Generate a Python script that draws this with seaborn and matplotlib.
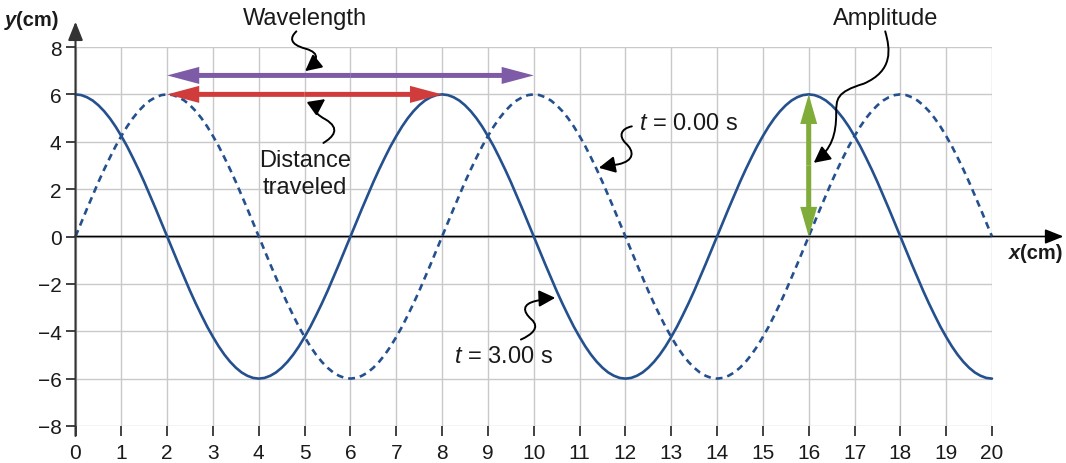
import numpy as np
import pandas as pd
import matplotlib
matplotlib.use("Agg")
import matplotlib.pyplot as plt
import seaborn as sns
from matplotlib.path import Path
from matplotlib.patches import FancyArrowPatch, FancyArrow

# ---------------- data ----------------
x_cm = np.linspace(0, 20, 161)          # sample positions, every 0.125 cm

# t = 3.00 s (solid)
y_t3 = [
    6.00, 5.97, 5.88, 5.74, 5.54, 5.29, 4.99, 4.64, 4.24, 3.81, 3.33, 2.83, 2.30, 1.74, 1.17, 0.59, 0.00,
    -0.59, -1.17, -1.74, -2.30, -2.83, -3.33, -3.81, -4.24, -4.64, -4.99, -5.29, -5.54, -5.74, -5.88, -5.97, -6.00,
    -5.97, -5.88, -5.74, -5.54, -5.29, -4.99, -4.64, -4.24, -3.81, -3.33, -2.83, -2.30, -1.74, -1.17, -0.59, 0.00,
    0.59, 1.17, 1.74, 2.30, 2.83, 3.33, 3.81, 4.24, 4.64, 4.99, 5.29, 5.54, 5.74, 5.88, 5.97, 6.00,
    5.97, 5.88, 5.74, 5.54, 5.29, 4.99, 4.64, 4.24, 3.81, 3.33, 2.83, 2.30, 1.74, 1.17, 0.59, 0.00,
    -0.59, -1.17, -1.74, -2.30, -2.83, -3.33, -3.81, -4.24, -4.64, -4.99, -5.29, -5.54, -5.74, -5.88, -5.97, -6.00,
    -5.97, -5.88, -5.74, -5.54, -5.29, -4.99, -4.64, -4.24, -3.81, -3.33, -2.83, -2.30, -1.74, -1.17, -0.59, 0.00,
    0.59, 1.17, 1.74, 2.30, 2.83, 3.33, 3.81, 4.24, 4.64, 4.99, 5.29, 5.54, 5.74, 5.88, 5.97, 6.00,
    5.97, 5.88, 5.74, 5.54, 5.29, 4.99, 4.64, 4.24, 3.81, 3.33, 2.83, 2.30, 1.74, 1.17, 0.59, 0.00,
    -0.59, -1.17, -1.74, -2.30, -2.83, -3.33, -3.81, -4.24, -4.64, -4.99, -5.29, -5.54, -5.74, -5.88, -5.97, -6.00,
]

# t = 0.00 s (dashed)
y_t0 = [
    0.00, 0.59, 1.17, 1.74, 2.30, 2.83, 3.33, 3.81, 4.24, 4.64, 4.99, 5.29, 5.54, 5.74, 5.88, 5.97, 6.00,
    5.97, 5.88, 5.74, 5.54, 5.29, 4.99, 4.64, 4.24, 3.81, 3.33, 2.83, 2.30, 1.74, 1.17, 0.59, 0.00,
    -0.59, -1.17, -1.74, -2.30, -2.83, -3.33, -3.81, -4.24, -4.64, -4.99, -5.29, -5.54, -5.74, -5.88, -5.97, -6.00,
    -5.97, -5.88, -5.74, -5.54, -5.29, -4.99, -4.64, -4.24, -3.81, -3.33, -2.83, -2.30, -1.74, -1.17, -0.59, 0.00,
    0.59, 1.17, 1.74, 2.30, 2.83, 3.33, 3.81, 4.24, 4.64, 4.99, 5.29, 5.54, 5.74, 5.88, 5.97, 6.00,
    5.97, 5.88, 5.74, 5.54, 5.29, 4.99, 4.64, 4.24, 3.81, 3.33, 2.83, 2.30, 1.74, 1.17, 0.59, 0.00,
    -0.59, -1.17, -1.74, -2.30, -2.83, -3.33, -3.81, -4.24, -4.64, -4.99, -5.29, -5.54, -5.74, -5.88, -5.97, -6.00,
    -5.97, -5.88, -5.74, -5.54, -5.29, -4.99, -4.64, -4.24, -3.81, -3.33, -2.83, -2.30, -1.74, -1.17, -0.59, 0.00,
    0.59, 1.17, 1.74, 2.30, 2.83, 3.33, 3.81, 4.24, 4.64, 4.99, 5.29, 5.54, 5.74, 5.88, 5.97, 6.00,
    5.97, 5.88, 5.74, 5.54, 5.29, 4.99, 4.64, 4.24, 3.81, 3.33, 2.83, 2.30, 1.74, 1.17, 0.59, 0.00,
]

x_ticks = list(range(0, 21))
y_ticks = list(range(-8, 9, 2))

# highlighted spans
wavelength_span = (2, 10)
wavelength_level = 6.8
distance_span = (2, 8)
distance_level = 6.0
amplitude_x = 16
amplitude_span = (0, 6)

# ---------------- style ----------------
sns.set_theme(style="white")
plt.rcParams["font.family"] = ["Liberation Sans", "DejaVu Sans"]
plt.rcParams["mathtext.fontset"] = "custom"
plt.rcParams["mathtext.it"] = "Liberation Sans:italic"
plt.rcParams["mathtext.rm"] = "Liberation Sans"
plt.rcParams["axes.unicode_minus"] = True

BLUE = "#24508e"
PURPLE = "#7d5ba6"
RED = "#d03c3c"
GREEN = "#80ac3a"
TXT = "#1a1a1a"

fig = plt.figure(figsize=(10.66, 4.64), dpi=100)
ax = fig.add_axes([75.5 / 1066, 37 / 464, (992 - 75.5) / 1066, (427 - 48) / 464])

df = pd.DataFrame({"x": x_cm, "t0": y_t0, "t3": y_t3})

sns.lineplot(data=df, x="x", y="t0", ax=ax, color=BLUE, lw=1.9,
             linestyle=(0, (2.6, 1.9)), clip_on=False, zorder=3)
sns.lineplot(data=df, x="x", y="t3", ax=ax, color=BLUE, lw=1.9,
             clip_on=False, zorder=3)

ax.set_xlim(0, 20)
ax.set_ylim(-8, 8)
ax.set_xticks(x_ticks)
ax.set_yticks(y_ticks)
ax.set_xlabel("")
ax.set_ylabel("")
ax.grid(True, color="#c9c9c9", lw=1.0)
ax.set_axisbelow(True)
for s in ax.spines.values():
    s.set_visible(False)
ax.tick_params(axis="x", bottom=True, length=7, width=1.3, color="#333333",
               pad=5, labelsize=15, labelcolor=TXT)
ax.tick_params(axis="y", left=True, length=7, width=1.3, color="#333333",
               pad=3, labelsize=15, labelcolor=TXT)

# axes lines with arrows
ax.annotate("", xy=(21.56, 0), xytext=(0, 0),
            arrowprops=dict(arrowstyle="-|>,head_length=0.7,head_width=0.28",
                            color="black", lw=1.2, mutation_scale=16,
                            shrinkA=0, shrinkB=0),
            annotation_clip=False, zorder=2)
ax.annotate("", xy=(0, 9.07), xytext=(0, -8.42),
            arrowprops=dict(arrowstyle="-|>,head_length=0.7,head_width=0.28",
                            color="#333333", lw=1.5, mutation_scale=16,
                            shrinkA=0, shrinkB=0),
            annotation_clip=False, zorder=4)

# axis labels
ax.text(-1.30, 9.14, "y", ha="right", va="center", fontsize=14.5,
        fontweight="bold", fontstyle="italic", color=TXT)
ax.text(-1.30, 9.14, "(cm)", ha="left", va="center", fontsize=14.5,
        fontweight="bold", color=TXT)
ax.text(20.62, -0.68, "x", ha="right", va="center", fontsize=14.5,
        fontweight="bold", fontstyle="italic", color=TXT)
ax.text(20.62, -0.68, "(cm)", ha="left", va="center", fontsize=14.5,
        fontweight="bold", color=TXT)


def double_arrow(p0, p1, width, hw, hl, color):
    mx, my = (p0[0] + p1[0]) / 2, (p0[1] + p1[1]) / 2
    for ex, ey in (p0, p1):
        ax.add_patch(FancyArrow(mx, my, ex - mx, ey - my, width=width,
                                head_width=hw, head_length=hl,
                                length_includes_head=True, color=color,
                                lw=0, clip_on=False, zorder=5))


double_arrow((wavelength_span[0], wavelength_level), (wavelength_span[1], wavelength_level),
             0.21, 0.72, 0.7, PURPLE)
double_arrow((distance_span[0], distance_level), (distance_span[1], distance_level),
             0.21, 0.72, 0.7, RED)
double_arrow((amplitude_x, amplitude_span[0]), (amplitude_x, amplitude_span[1]),
             0.11, 0.37, 1.25, GREEN)


def squiggle(verts):
    codes = [Path.MOVETO] + [Path.CURVE4] * (len(verts) - 1)
    p = FancyArrowPatch(path=Path(verts, codes),
                        arrowstyle="-|>,head_length=0.55,head_width=0.28",
                        mutation_scale=18, lw=1.4, color="black",
                        clip_on=False, zorder=6)
    ax.add_patch(p)


squiggle([(4.82, 8.66), (4.68, 8.40), (4.66, 8.12), (5.02, 7.93),
          (5.36, 7.74), (5.28, 7.40), (5.01, 6.98)])
squiggle([(5.41, 3.95), (5.62, 4.20), (5.80, 4.55), (5.45, 4.95),
          (5.12, 5.30), (5.22, 5.48), (5.45, 5.80)])
squiggle([(12.14, 4.65), (11.90, 4.55), (11.85, 4.25), (12.00, 3.95),
          (12.20, 3.60), (12.20, 3.20), (11.85, 3.05),
          (11.70, 3.00), (11.55, 2.95), (11.42, 2.90)])
squiggle([(17.67, 8.66), (17.78, 7.90), (17.85, 7.00), (17.20, 6.45),
          (16.60, 6.10), (16.60, 5.80), (16.60, 5.20),
          (16.60, 4.30), (16.50, 3.70), (16.11, 3.11)])
squiggle([(9.72, -4.35), (9.95, -4.15), (10.15, -3.85), (9.95, -3.50),
          (9.75, -3.15), (9.75, -2.85), (10.05, -2.72),
          (10.20, -2.65), (10.35, -2.60), (10.47, -2.59)])

# annotation texts
FS = 17
ax.text(5.0, 9.24, "Wavelength", ha="center", va="center", fontsize=FS, color=TXT)
ax.text(5.01, 3.25, "Distance", ha="center", va="center", fontsize=FS, color=TXT)
ax.text(5.01, 2.07, "traveled", ha="center", va="center", fontsize=FS, color=TXT)
ax.text(12.29, 4.81, r"$t$ = 0.00 s", ha="left", va="center", fontsize=FS, color=TXT)
ax.text(17.67, 9.22, "Amplitude", ha="center", va="center", fontsize=FS, color=TXT)
ax.text(8.25, -5.05, r"$t$ = 3.00 s", ha="left", va="center", fontsize=FS, color=TXT)

fig.savefig("out.png", dpi=100)
